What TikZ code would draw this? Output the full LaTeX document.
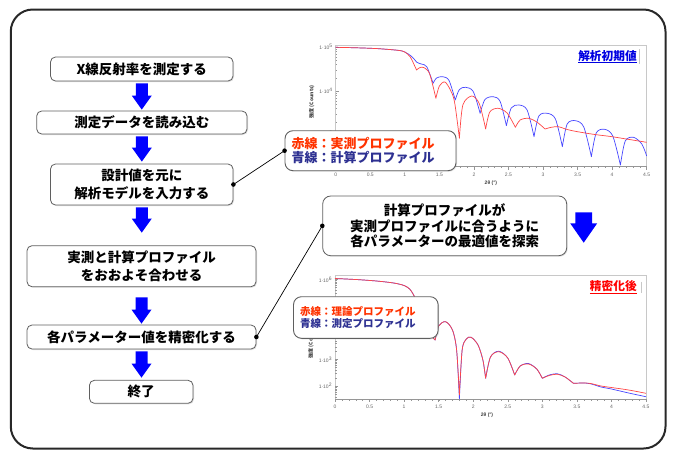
\documentclass[tikz,border=0pt]{standalone}
\usepackage{fontspec}
\setmainfont{Noto Sans CJK JP}
\newfontfamily\arial{Liberation Sans}
\usetikzlibrary{calc,shadows}
\definecolor{arrowblue}{RGB}{0,0,255}
\definecolor{curvered}{RGB}{255,70,70}
\definecolor{curveblue}{RGB}{70,70,255}
\definecolor{legred}{RGB}{255,51,0}
\definecolor{legblue}{RGB}{46,49,146}
\definecolor{titleblue}{RGB}{0,0,225}
\definecolor{titlered}{RGB}{255,0,0}
\definecolor{boxdraw}{RGB}{95,95,95}
\definecolor{outerdraw}{RGB}{40,40,40}
\definecolor{framegray}{RGB}{200,200,200}
\definecolor{tickgray}{RGB}{150,150,150}
\newcommand\flowarrow[5]{%
  \fill[arrowblue] let \p1=(#1), \p2=(#2) in
    (\x1-#3,\y1) -- (\x1-#3,\y2+#5) -- (\x1-#4,\y2+#5) -- (\x1,\y2)
    -- (\x1+#4,\y2+#5) -- (\x1+#3,\y2+#5) -- (\x1+#3,\y1) -- cycle;}
\begin{document}
\begin{tikzpicture}[x=1pt,y=-1pt,
  flowbox/.style={draw=boxdraw, line width=0.8pt, rounded corners=5pt, fill=white,
    drop shadow={shadow xshift=1pt, shadow yshift=-1pt, opacity=0.25},
    inner sep=0pt, align=center, font=\fontsize{13.5}{17.5}\selectfont\bfseries},
  legbox/.style={draw=boxdraw, line width=0.9pt, rounded corners=8pt, fill=white,
    drop shadow={shadow xshift=1pt, shadow yshift=-1pt, opacity=0.25},
    inner xsep=6.5pt, inner ysep=0pt, align=left},
  ticklab/.style={font=\arial\fontsize{5}{6}\selectfont, text=black!60, inner sep=0pt},
  ylab/.style={font=\arial\fontsize{5}{6}\selectfont, text=black!60, inner sep=0pt, anchor=east},
  axtitle/.style={font=\fontsize{5}{6}\selectfont\bfseries, text=black!75, inner sep=0pt},
  dotline/.style={line width=0.7pt, black}
]
\useasboundingbox (0,0) rectangle (677,450);
% outer frame
\draw[outerdraw, line width=2pt, rounded corners=22pt] (10.8,9.5) rectangle (665.5,448.5);

% ================= Chart 1 =================
\begin{scope}[xshift=335.7pt, x=69.1pt]
  \draw[framegray, line width=0.5pt] (0,45) rectangle (4.5,166.7);
  \draw[tickgray, line width=0.5pt] (0,166.7) -- (4.5,166.7);
  \foreach \t in {0,0.1,...,4.5} \draw[tickgray, line width=0.3pt] (\t,166.7) -- (\t,168.3);
  \foreach \t [count=\i] in {0,0.5,1,1.5,2,2.5,3,3.5,4,4.5} {
    \draw[tickgray, line width=0.4pt] (\t,166.7) -- (\t,169.5);
    \node[ticklab] (xa\i) at (\t,175) {\t};
  }
  \begin{scope}
    \clip (0,45) rectangle (4.5,166.7);
    \foreach \b in {91,135,179} \foreach \m in {2,...,9}
      \draw[tickgray, line width=0.3pt] (0,{\b-ln(\m)/ln(10)*44}) -- (0.025,{\b-ln(\m)/ln(10)*44});
  \end{scope}
  \foreach \yy in {47,91,135} \draw[tickgray, line width=0.4pt] (0,\yy) -- (0.045,\yy);
  \foreach \yy/\e in {47/5,91/4,134/3} {
    \node[ylab] (ya\e) at (-0.04,\yy) {1·10\textsuperscript{\e}};
  }
  \node[axtitle] (xt1) at (2.245,183.3) {\arial 2θ (°)};
  % blue calculated
  \draw[curveblue, line width=0.7pt, line join=round]
    plot[smooth] coordinates {(0,47.3) (0.3,47.8) (0.6,48.6) (0.9,50.3) (1.0,52) (1.1,56.5) (1.18,62.5) (1.25,64.2) (1.32,67) (1.41,83.3)}
    -- plot[smooth] coordinates {(1.41,83.3) (1.46,78) (1.55,76.7) (1.64,80.5) (1.73,100)}
    -- plot[smooth] coordinates {(1.73,100) (1.79,89.5) (1.88,87.3) (1.99,91.5) (2.09,113.3)}
    -- plot[smooth] coordinates {(2.09,113.3) (2.16,99.5) (2.28,96.7) (2.38,101.5) (2.47,125.7)}
    -- plot[smooth] coordinates {(2.47,125.7) (2.54,108) (2.65,105) (2.77,110) (2.87,136.7)}
    -- plot[smooth] coordinates {(2.87,136.7) (2.94,116) (3.06,113.3) (3.18,119) (3.28,146.7)}
    -- plot[smooth] coordinates {(3.28,146.7) (3.35,124) (3.47,120.7) (3.59,127) (3.7,156.7)}
    -- plot[smooth] coordinates {(3.7,156.7) (3.77,133) (3.89,129.3) (4.01,136) (4.12,165)}
    -- plot[smooth] coordinates {(4.12,165) (4.19,141) (4.31,137.3) (4.43,144) (4.5,156)};
  % red measured
  \draw[curvered, line width=0.7pt, line join=round]
    plot[smooth] coordinates {(0,47.3) (0.3,47.8) (0.6,48.6) (0.9,50.3) (1.0,52) (1.08,57) (1.13,64) (1.17,70)}
    -- plot[smooth] coordinates {(1.17,70) (1.22,67.5) (1.28,67.7) (1.36,74) (1.45,98.3)}
    -- plot[smooth] coordinates {(1.45,98.3) (1.5,86) (1.58,82) (1.66,90) (1.72,102) (1.79,138.3)}
    -- plot[smooth] coordinates {(1.79,138.3) (1.84,105) (1.97,96) (2.08,104) (2.17,129)}
    -- plot[smooth] coordinates {(2.17,129) (2.23,112) (2.35,108.3) (2.48,113) (2.6,127.3)}
    -- plot[smooth] coordinates {(2.6,127.3) (2.67,120) (2.79,118.3) (2.91,122) (3.03,129)}
    -- plot[smooth] coordinates {(3.03,129) (3.12,127.3) (3.22,126.7) (3.35,129.5) (3.5,131.7) (3.75,134.5) (4.0,136.7) (4.25,139.5) (4.5,142.3)};
\end{scope}
\node[rotate=90, axtitle] (yt1) at (311.7,101.7) {強度 (Counts)};
\node[font=\fontsize{11.7}{12}\selectfont\bfseries, text=titleblue, inner sep=0pt] (ti1) at (607.5,56.7) {\underline{解析初期値}};
\draw[framegray, line width=0.6pt] (639.5,49) -- (639.5,64);

% ================= Chart 2 =================
\begin{scope}[xshift=335pt, x=69.1pt]
  \draw[framegray, line width=0.5pt] (0,275) rectangle (4.5,399.3);
  \draw[tickgray, line width=0.5pt] (0,399.3) -- (4.5,399.3);
  \foreach \t in {0,0.1,...,4.5} \draw[tickgray, line width=0.3pt] (\t,399.3) -- (\t,400.9);
  \foreach \t [count=\i] in {0,0.5,1,1.5,2,2.5,3,3.5,4,4.5} {
    \draw[tickgray, line width=0.4pt] (\t,399.3) -- (\t,402.1);
    \node[ticklab] (xb\i) at (\t,406.7) {\t};
  }
  \begin{scope}
    \clip (0,275) rectangle (4.5,399.3);
    \foreach \b in {306,332.7,359.4,386.1,412.8} \foreach \m in {2,...,9}
      \draw[tickgray, line width=0.3pt] (0,{\b-ln(\m)/ln(10)*26.7}) -- (0.025,{\b-ln(\m)/ln(10)*26.7});
  \end{scope}
  \foreach \yy in {279.3,306,332.7,359.4,386.1} \draw[tickgray, line width=0.4pt] (0,\yy) -- (0.045,\yy);
  \foreach \yy/\e in {279.3/6,359.4/3,386.1/2} {
    \node[ylab] (yb\e) at (-0.04,\yy) {1·10\textsuperscript{\e}};
  }
  \node[axtitle] (xt2) at (2.2,415) {\arial 2θ (°)};
  % blue measured
  \draw[curveblue, line width=0.7pt, line join=round]
    plot[smooth] coordinates {(0,278.5) (0.3,279.5) (0.6,281) (0.85,283) (1.0,285.5) (1.08,289) (1.13,294) (1.17,300) (1.22,312) (1.3,325) (1.38,335) (1.45,340)}
    -- plot[smooth] coordinates {(1.45,340) (1.5,326) (1.6,321.7) (1.7,330) (1.76,350) (1.8,399)}
    -- plot[smooth] coordinates {(1.8,399) (1.84,350) (1.9,339) (1.97,337.3) (2.07,345) (2.14,360) (2.18,378.3)}
    -- plot[smooth] coordinates {(2.18,378.3) (2.25,357) (2.37,351.2) (2.5,358) (2.6,375)}
    -- plot[smooth] coordinates {(2.6,375) (2.68,366) (2.8,363.5) (2.92,369) (3.0,378.3)}
    -- plot[smooth] coordinates {(3.0,378.3) (3.1,375) (3.22,373.8) (3.33,377) (3.45,383.3)}
    -- plot[smooth] coordinates {(3.45,383.3) (3.6,383) (3.7,383.8) (3.85,387) (4.0,389) (4.25,393) (4.5,396.7)};
  % red theoretical
  \draw[curvered, line width=0.7pt, line join=round]
    plot[smooth] coordinates {(0,278.5) (0.3,279.5) (0.6,281) (0.85,283) (1.0,285.5) (1.08,289) (1.13,294) (1.17,300) (1.22,312) (1.3,325) (1.38,335) (1.45,340)}
    -- plot[smooth] coordinates {(1.45,340) (1.5,326) (1.6,321.7) (1.7,330) (1.76,350) (1.8,395)}
    -- plot[smooth] coordinates {(1.8,395) (1.84,350) (1.9,339) (1.97,337.3) (2.07,345) (2.14,360) (2.18,378.3)}
    -- plot[smooth] coordinates {(2.18,378.3) (2.25,357) (2.37,351.7) (2.5,358) (2.6,375)}
    -- plot[smooth] coordinates {(2.6,375) (2.68,366) (2.8,364) (2.92,369) (3.0,378.3)}
    -- plot[smooth] coordinates {(3.0,378.3) (3.1,375.5) (3.22,374.3) (3.33,377) (3.45,383.3)}
    -- plot[smooth] coordinates {(3.45,383.3) (3.6,383) (3.7,383.5) (3.85,386) (4.0,387.5) (4.25,390) (4.5,393.3)};
\end{scope}
\node[rotate=90, axtitle] (yt2) at (311,342) {強度 (Counts)};
\node[font=\fontsize{11.7}{12}\selectfont\bfseries, text=titlered, inner sep=0pt] (ti2) at (613.3,287.3) {\underline{精密化後}};
\draw[framegray, line width=0.6pt] (641.7,281.7) -- (641.7,293.3);

% ================= Flowchart =================
\node[flowbox, minimum width=182.5pt, minimum height=24pt] (b1) at (141.75,69) {X線反射率を測定する};
\node[flowbox, minimum width=210.3pt, minimum height=23pt] (b2) at (141.85,122.5) {測定データを読み込む};
\node[flowbox, minimum width=182.5pt, minimum height=41pt] (b3) at (141.75,184.5) {設計値を元に\\解析モデルを入力する};
\node[flowbox, minimum width=229pt, minimum height=41pt] (b4) at (141.5,266.2) {実測と計算プロファイル\\をおおよそ合わせる};
\node[flowbox, minimum width=229pt, minimum height=24pt] (b5) at (141.5,337) {各パラメーター値を精密化する};
\node[flowbox, minimum width=103.6pt, minimum height=23pt] (b6) at (141.2,391.8) {終了};
\node[flowbox, font=\fontsize{13.5}{15.5}\selectfont\bfseries, rounded corners=8pt, minimum width=244pt, minimum height=59.7pt] (b7) at (444.7,225.85) {計算プロファイルが\\実測プロファイルに合うように\\各パラメーターの最適値を探索};

% legends
\node[legbox, text width=158pt, minimum height=40pt, font=\fontsize{13}{14}\selectfont\bfseries] (l1) at (370.5,150.7)
  {\textcolor{legred}{赤線：実測プロファイル}\\\textcolor{legblue}{青線：計算プロファイル}};
\node[legbox, text width=131.6pt, minimum height=41.6pt, font=\fontsize{10.5}{12}\selectfont\bfseries] (l2) at (365.8,317.5)
  {\textcolor{legred}{赤線：理論プロファイル}\\\textcolor{legblue}{青線：測定プロファイル}};

% flow arrows
\flowarrow{$(b1.south)+(0,2)$}{$(b2.north)+(0,-1)$}{6pt}{10pt}{14pt}
\flowarrow{$(b2.south)+(0,2)$}{$(b3.north)+(0,-2)$}{6pt}{10pt}{14pt}
\flowarrow{$(b3.south)+(0,2)$}{$(b4.north)+(0,-12.7)$}{6pt}{10pt}{14pt}
\flowarrow{$(b4.south)+(0,10.3)$}{$(b5.north)+(0,-1)$}{6pt}{10pt}{14pt}
\flowarrow{$(b5.south)+(0,2)$}{$(b6.north)+(0,-2.3)$}{6pt}{10pt}{14pt}
\coordinate (ra1) at (583.7,212.3);
\coordinate (ra2) at (583.7,242.7);
\flowarrow{ra1}{ra2}{8.3pt}{13.5pt}{19.4pt}

% connectors
\draw[dotline] (b3.east) -- (l1.west);
\fill (b3.east) circle (2.3);
\fill (l1.west) circle (2.3);
\draw[dotline] (b5.east) -- (b7.west);
\fill (b5.east) circle (2.3);
\fill (b7.west) circle (2.3);
\end{tikzpicture}
\end{document}
